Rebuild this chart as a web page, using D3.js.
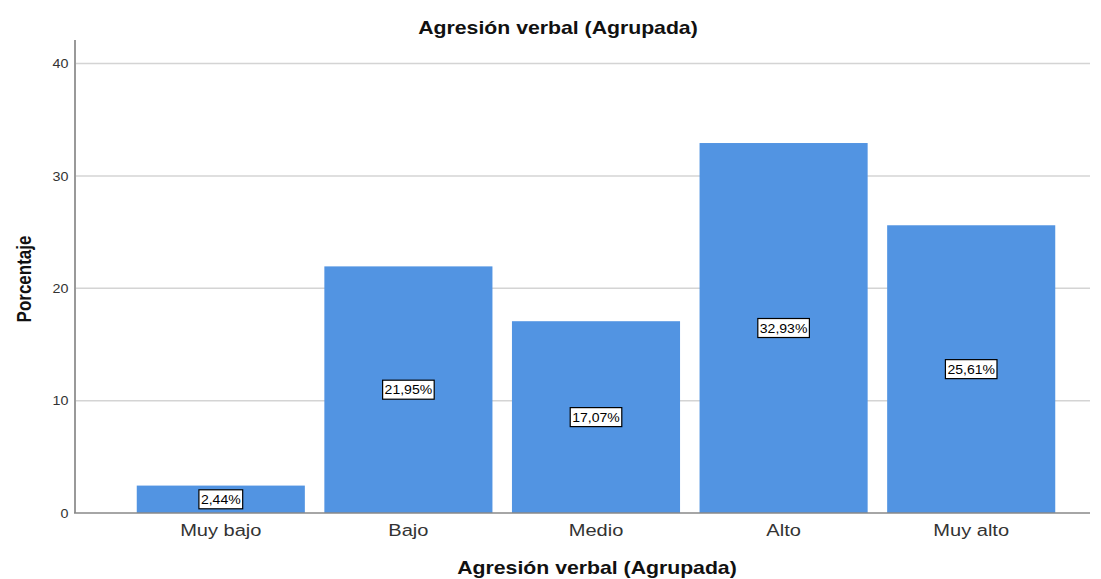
<!DOCTYPE html>
<html>
<head>
<meta charset="utf-8">
<script src="https://cdn.jsdelivr.net/npm/d3@7"></script>
<style>
  body { margin: 0; background: #fff; }
  svg { font-family: "Liberation Sans", Arial, sans-serif; display: block; }
</style>
</head>
<body>
<div class="render"></div>
<script>
'use strict';

var categories = ['Muy bajo', 'Bajo', 'Medio', 'Alto', 'Muy alto'];
var values = [2.44, 21.95, 17.07, 32.93, 25.61];
var yTicks = [0, 10, 20, 30, 40];

var w = 1101;
var h = 579;
var stretch = 1.18; // reference text looks widened

var svg = d3.select('.render').append('svg').attr('width', w).attr('height', h);

var yScale = d3.scaleLinear().domain([0, 42.1]).range([513, 40]);
var xScale = d3.scaleBand().domain(categories).range([127, 1065]).paddingInner(0.104).paddingOuter(0.052);

// grid
svg.selectAll('line.grid').data(yTicks.slice(1)).enter().append('line')
   .attr('class', 'grid')
   .attr('x1', 75).attr('x2', 1090)
   .attr('y1', function (d) { return yScale(d); })
   .attr('y2', function (d) { return yScale(d); })
   .attr('stroke', '#d4d4d4').attr('stroke-width', 1.5);

// bars
svg.selectAll('rect.bar').data(values).enter().append('rect')
   .attr('class', 'bar')
   .attr('x', function (d, i) { return xScale(categories[i]); })
   .attr('y', function (d) { return yScale(d); })
   .attr('width', xScale.bandwidth())
   .attr('height', function (d) { return yScale(0) - yScale(d); })
   .attr('fill', '#5294e2');

// axes
var yAxis = d3.axisLeft(yScale).tickValues(yTicks).tickSize(0).tickPadding(6);
var gy = svg.append('g').attr('transform', 'translate(75,0)').call(yAxis);
gy.select('.domain').remove();
gy.selectAll('text').style('font-size', '13px').attr('fill', '#333')
   .attr('transform', 'scale(1.1,1)');

svg.append('line').attr('x1', 75).attr('x2', 75).attr('y1', 40).attr('y2', 513)
   .attr('stroke', '#999').attr('stroke-width', 2);
svg.append('line').attr('x1', 74).attr('x2', 1090).attr('y1', 513).attr('y2', 513)
   .attr('stroke', '#888').attr('stroke-width', 1.5);

var xAxis = d3.axisBottom(xScale).tickSize(0);
var gx = svg.append('g').attr('transform', 'translate(0,513)').call(xAxis);
gx.select('.domain').remove();
gx.selectAll('text').style('font-size', '17px').attr('fill', '#333')
   .attr('y', 23).attr('dy', null)
   .attr('transform', 'scale(' + stretch + ',1)');

// value labels
var labels = svg.selectAll('g.lab').data(values).enter().append('g')
   .attr('class', 'lab')
   .attr('transform', function (d, i) {
      return 'translate(' + (xScale(categories[i]) + xScale.bandwidth() / 2) + ',' + (yScale(d / 2)) + ')';
   });
labels.append('text')
   .text(function (d) { return d.toFixed(2).replace('.', ',') + '%'; })
   .attr('text-anchor', 'middle').attr('dy', '0.36em')
   .attr('transform', 'scale(1.08,1)')
   .style('font-size', '13px').attr('fill', '#000');
labels.each(function () {
   var g = d3.select(this);
   var b = g.select('text').node().getBBox();
   var bw = b.width * 1.08;
   g.insert('rect', 'text')
      .attr('x', -bw / 2 - 2).attr('y', -9.5)
      .attr('width', bw + 4).attr('height', 19)
      .attr('fill', '#fff').attr('stroke', '#000').attr('stroke-width', 1.2);
});

// titles
svg.append('text').text('Agresión verbal (Agrupada)')
   .attr('transform', 'translate(558,34) scale(' + stretch + ',1)').attr('text-anchor', 'middle')
   .style('font-size', '18px').style('font-weight', 'bold').attr('fill', '#111');

svg.append('text').text('Agresión verbal (Agrupada)')
   .attr('transform', 'translate(597,574) scale(' + stretch + ',1)').attr('text-anchor', 'middle')
   .style('font-size', '18px').style('font-weight', 'bold').attr('fill', '#111');

svg.append('text').text('Porcentaje')
   .attr('transform', 'translate(31,279) scale(' + stretch + ',1) rotate(-90)').attr('text-anchor', 'middle')
   .style('font-size', '17px').style('font-weight', 'bold').attr('fill', '#111');
</script>
</body>
</html>
